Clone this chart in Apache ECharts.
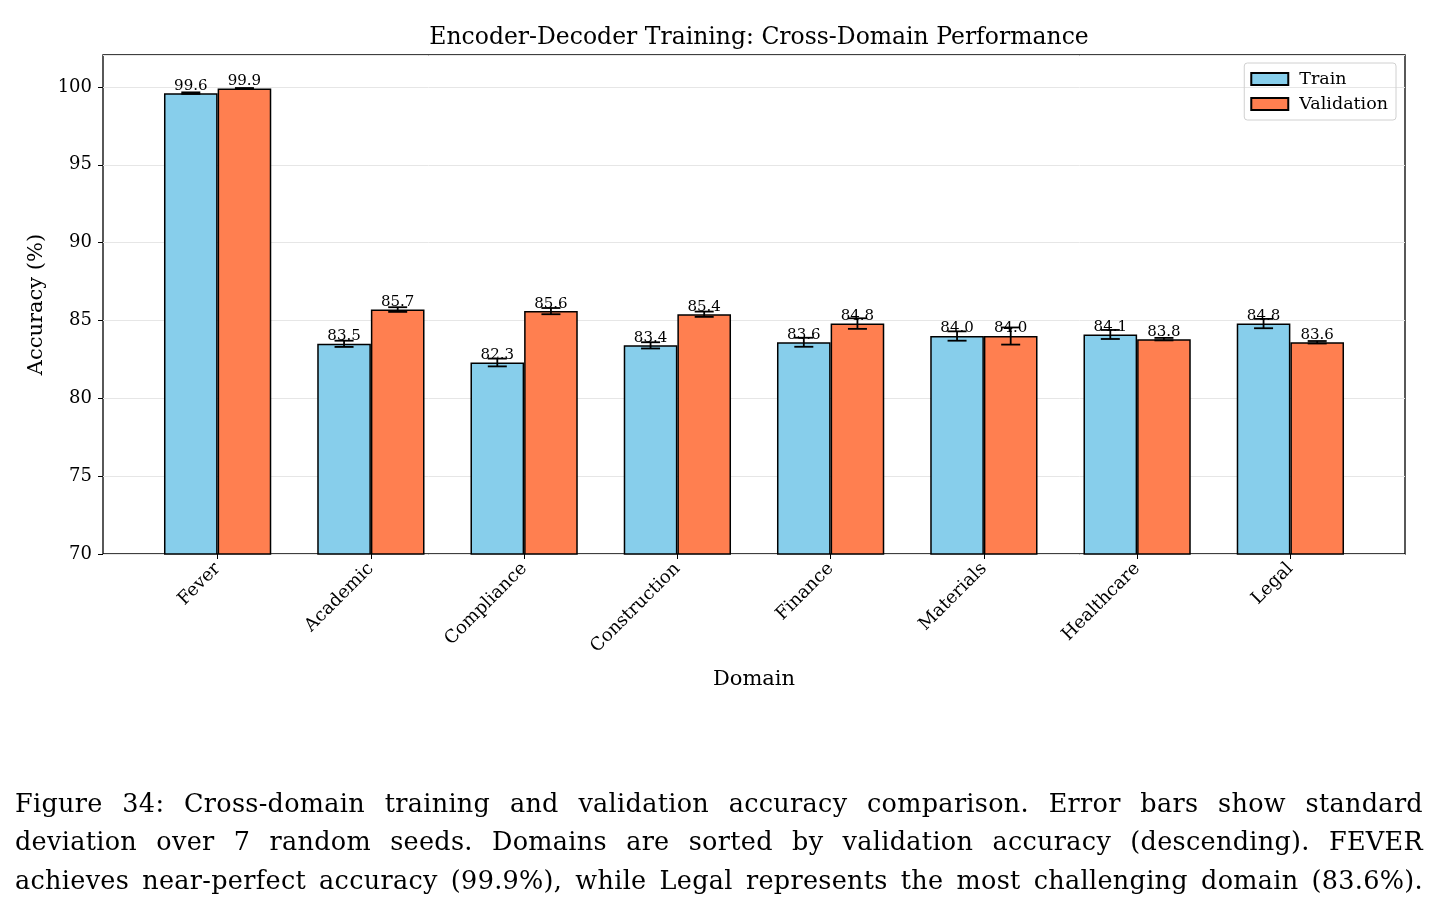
<!DOCTYPE html>
<html>
<head>
<meta charset="utf-8">
<script src="https://cdn.jsdelivr.net/npm/echarts@6/dist/echarts.min.js"></script>
<style>
  body { margin: 0; background: #fff; }
  #wrap { position: relative; width: 1440px; height: 920px; }
  #chart { width: 1440px; height: 920px; }
  .cap { position: absolute; left: 15px; width: 1408px; font-family: 'DejaVu Serif', serif; font-size: 25.5px; letter-spacing: 0.3px; color: #000;
         text-align: justify; text-align-last: justify; white-space: nowrap; }
</style>
</head>
<body>
<div id="wrap">
  <div id="chart"></div>
  <div class="cap" style="top:788px">Figure 34: Cross-domain training and validation accuracy comparison. Error bars show standard</div>
  <div class="cap" style="top:826px">deviation over 7 random seeds. Domains are sorted by validation accuracy (descending). FEVER</div>
  <div class="cap" style="top:865px">achieves near-perfect accuracy (99.9%), while Legal represents the most challenging domain (83.6%).</div>
</div>
<script>
var domains = ['Fever', 'Academic', 'Compliance', 'Construction', 'Finance', 'Materials', 'Healthcare', 'Legal'];
var trainAcc = [99.6, 83.5, 82.3, 83.4, 83.6, 84.0, 84.1, 84.8];
var trainStd = [0.05, 0.2, 0.25, 0.2, 0.29, 0.3, 0.29, 0.3];
var valAcc = [99.9, 85.7, 85.6, 85.4, 84.8, 84.0, 83.8, 83.6];
var valStd = [0.03, 0.15, 0.2, 0.17, 0.34, 0.55, 0.08, 0.08];
var yTicks = [70, 75, 80, 85, 90, 95, 100];

var serif = 'DejaVu Serif';
var myChart = echarts.init(document.getElementById('chart'));

// error bar data: [category index, value, std, side (-1 train, +1 validation)]
var errData = [];
for (var i = 0; i < domains.length; i++) {
    errData.push([i, trainAcc[i], trainStd[i], -1]);
    errData.push([i, valAcc[i], valStd[i], 1]);
}

function renderErr(params, api) {
    var idx = api.value(0), v = api.value(1), s = api.value(2), side = api.value(3);
    var band = api.size([1, 0])[0];
    var off = side * band * 0.35 / 2;
    var top = api.coord([idx, v + s]);
    var bot = api.coord([idx, v - s]);
    var x = top[0] + off;
    var cap = 9.5;
    var st = { stroke: '#000', lineWidth: 1.8 };
    return {
        type: 'group',
        children: [
            { type: 'line', shape: { x1: x, y1: top[1], x2: x, y2: bot[1] }, style: st },
            { type: 'line', shape: { x1: x - cap, y1: top[1], x2: x + cap, y2: top[1] }, style: st },
            { type: 'line', shape: { x1: x - cap, y1: bot[1], x2: x + cap, y2: bot[1] }, style: st }
        ]
    };
}

var barLabel = {
    show: true, position: 'top', distance: 0, color: '#000',
    fontFamily: serif, fontSize: 15,
    formatter: function (p) { return p.value.toFixed(1); }
};

var option = {
    animation: false,
    title: {
        text: 'Encoder-Decoder Training: Cross-Domain Performance',
        left: 754, top: 21, textAlign: 'center',
        textStyle: { fontFamily: serif, fontSize: 23.5, fontWeight: 'normal', color: '#000' }
    },
    legend: {
        data: ['Train', 'Validation'],
        orient: 'vertical', right: 44, top: 63,
        icon: 'rect',
        itemWidth: 37, itemHeight: 12, itemGap: 7,
        padding: [7, 8, 7, 6],
        borderColor: '#d0d0d0', borderWidth: 1, borderRadius: 3,
        textStyle: { fontFamily: serif, fontSize: 17.5, color: '#000', padding: [0, 0, 0, 6] }
    },
    grid: [
        { left: 103, right: 35, top: 55, bottom: 366, show: true, borderColor: '#000', borderWidth: 1.3, backgroundColor: 'transparent' },
        { left: 141, width: 1226, top: 55, bottom: 366 }
    ],
    xAxis: [
        {
            gridIndex: 0, type: 'value', min: 0, max: 1,
            name: 'Domain', nameLocation: 'middle', nameGap: 115,
            nameTextStyle: { fontFamily: serif, fontSize: 21, color: '#000' },
            axisLine: { show: false }, axisTick: { show: false }, axisLabel: { show: false }, splitLine: { show: false }
        },
        {
            gridIndex: 1, type: 'category', data: domains,
            axisLine: { show: false },
            axisTick: { show: true, alignWithLabel: true, length: 5, lineStyle: { color: '#000' } },
            axisLabel: { rotate: 45, fontFamily: serif, fontSize: 18, color: '#000', margin: 12 },
            splitLine: { show: false }
        }
    ],
    yAxis: [
        {
            gridIndex: 0, type: 'value', min: 70, max: 102.05, interval: 5,
            name: 'Accuracy (%)', nameLocation: 'middle', nameGap: 53,
            nameTextStyle: { fontFamily: serif, fontSize: 21, color: '#000' },
            axisLine: { show: false },
            axisTick: { show: true, length: 5, lineStyle: { color: '#000' } },
            axisLabel: {
                fontFamily: serif, fontSize: 18, color: '#000', margin: 11, showMaxLabel: false,
                formatter: function (v) { return yTicks.indexOf(v) >= 0 ? String(v) : ''; }
            },
            splitLine: { show: true, lineStyle: { color: '#e6e6e6', width: 1 } }
        },
        {
            gridIndex: 1, type: 'value', min: 70, max: 102.05, interval: 5,
            axisLine: { show: false }, axisTick: { show: false }, axisLabel: { show: false }, splitLine: { show: false }
        }
    ],
    series: [
        {
            name: 'Train', type: 'bar', xAxisIndex: 1, yAxisIndex: 1,
            data: trainAcc, barWidth: '35%', barGap: '0%',
            itemStyle: { color: '#87CEEB', borderColor: '#000', borderWidth: 1.5 },
            label: barLabel
        },
        {
            name: 'Validation', type: 'bar', xAxisIndex: 1, yAxisIndex: 1,
            data: valAcc, barWidth: '35%', barGap: '0%',
            itemStyle: { color: '#FF7F50', borderColor: '#000', borderWidth: 1.5 },
            label: barLabel
        },
        {
            type: 'custom', xAxisIndex: 1, yAxisIndex: 1, z: 10,
            renderItem: renderErr, data: errData, silent: true
        }
    ]
};

myChart.setOption(option);
</script>
</body>
</html>
